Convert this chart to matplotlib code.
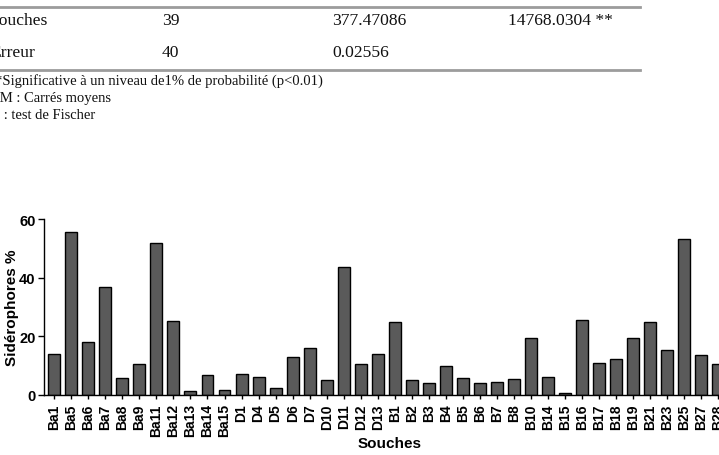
import matplotlib
matplotlib.use('Agg')
import matplotlib.pyplot as plt
from matplotlib.lines import Line2D

# souches et production de sidérophores (%)
souches = ['Ba1', 'Ba5', 'Ba6', 'Ba7', 'Ba8', 'Ba9', 'Ba11', 'Ba12', 'Ba13', 'Ba14',
           'Ba15', 'D1', 'D4', 'D5', 'D6', 'D7', 'D10', 'D11', 'D12', 'D13',
           'B1', 'B2', 'B3', 'B4', 'B5', 'B6', 'B7', 'B8', 'B10', 'B14',
           'B15', 'B16', 'B17', 'B18', 'B19', 'B21', 'B23', 'B25', 'B27', 'B28']
siderophores = [13.9, 55.7, 18.1, 36.9, 5.8, 10.7, 51.7, 25.2, 1.4, 6.7,
                1.7, 7.2, 6.0, 2.4, 13.1, 15.9, 5.0, 43.7, 10.7, 14.1,
                25.0, 5.1, 4.1, 9.9, 5.9, 4.2, 4.4, 5.5, 19.6, 6.3,
                0.7, 25.4, 10.9, 12.2, 19.6, 25.0, 15.3, 53.1, 13.8, 10.4]
y_ticks = [0, 20, 40, 60]

# tableau d'analyse de variance (fragment au-dessus du graphique)
table_rows = [['Souches', '39', '377.47086', '14768.0304 **'],
              ['Erreur', '40', '0.02556', '']]
notes = ['*Significative à un niveau de1% de probabilité (p<0.01)',
         'CM : Carrés moyens',
         'F : test de Fischer']

W, H = 719, 456
fig = plt.figure(figsize=(W / 100, H / 100), dpi=100)


def fx(x):
    return x / W


def fy(y):
    return 1 - y / H


serif = ['Liberation Serif', 'DejaVu Serif']
line_color = '#9c9c9c'
fig.add_artist(Line2D([0, fx(640)], [fy(7.5), fy(7.5)], transform=fig.transFigure,
                      color=line_color, lw=2))
fig.add_artist(Line2D([0, fx(640)], [fy(71), fy(71)], transform=fig.transFigure,
                      color=line_color, lw=2))

col_x = [-10, 162, 332, 508]
row_y = [25, 57]
for row, yb in zip(table_rows, row_y):
    for txt, xc in zip(row, col_x):
        if txt:
            fig.text(fx(xc), fy(yb), txt, family=serif, fontsize=12.6,
                     va='baseline', ha='left', color='#111111')

note_x = [-5, -9.5, -8]
note_y = [85, 102, 119]
for txt, xn, yn in zip(notes, note_x, note_y):
    fig.text(fx(xn), fy(yn), txt, family=serif, fontsize=10.5,
             va='baseline', ha='left', color='#111111')

# graphique à barres
ax = fig.add_axes([fx(44), fy(396), 684.6 / W, 176 / H])
pos = list(range(len(souches)))
ax.bar(pos, siderophores, width=0.7, color='#5a5a5a', edgecolor='black', linewidth=1)
ax.set_xlim(-0.6, len(souches) - 0.4)
ax.set_ylim(0, 60)
ax.set_yticks(y_ticks)
ax.set_xticks(pos)
ax.set_xticklabels(souches, rotation=90, fontsize=10, fontweight='bold',
                   family='Liberation Sans')
for lab in ax.get_yticklabels():
    lab.set_fontweight('bold')
    lab.set_family('Liberation Sans')
    lab.set_fontsize(10.5)
ax.tick_params(axis='x', length=3, width=1, pad=3, color='black')
ax.tick_params(axis='y', length=4, width=1, pad=2, color='black')
for side in ['top', 'right']:
    ax.spines[side].set_visible(False)
for side in ['left', 'bottom']:
    ax.spines[side].set_linewidth(1)
ax.set_ylabel('Sidérophores %', fontsize=11, fontweight='bold', family='Liberation Sans')
ax.yaxis.set_label_coords(-0.036, 0.5)
ax.set_xlabel('Souches', fontsize=11, fontweight='bold', family='Liberation Sans')
ax.xaxis.set_label_coords(0.505, -0.235)

fig.savefig('out.png', dpi=100)
